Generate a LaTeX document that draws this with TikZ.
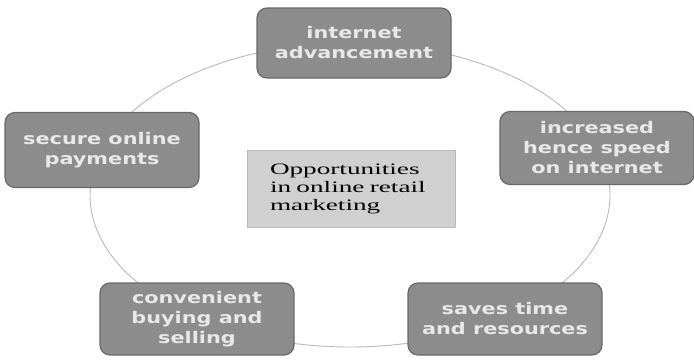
\documentclass[tikz,border=0pt]{standalone}
\usepackage{fontspec}
\setmainfont{Liberation Serif}[FakeStretch=1.7]
\newfontfamily\boxfont{DejaVu Sans}[FakeStretch=1.3]
\usetikzlibrary{positioning}
\definecolor{boxgray}{RGB}{140,140,140}
\definecolor{boxedge}{RGB}{105,105,105}
\definecolor{boxtext}{RGB}{232,232,232}
\definecolor{ringgray}{RGB}{185,185,185}
\definecolor{midgray}{RGB}{208,208,208}
\tikzset{
  oppbox/.style={draw=boxedge, line width=1.2pt, fill=boxgray, rounded corners=10pt,
    minimum width=194pt, minimum height=70pt, align=center, text=boxtext,
    font=\boxfont\bfseries\fontsize{16}{20}\selectfont},
  midbox/.style={draw=ringgray, line width=0.8pt, fill=midgray, minimum width=208pt,
    minimum height=77pt, text width=162pt, align=left,
    font=\fontsize{16}{18}\selectfont}
}
\begin{document}
\begin{tikzpicture}[x=1pt,y=-1pt]
    \useasboundingbox (0,0) rectangle (694,360);

    % ring
    \coordinate (ring) at (350,195);
    \draw[ringgray, line width=0.9pt] (ring) ellipse [x radius=260pt, y radius=152pt];

    % outer boxes
    \node[oppbox] (advance) at (354,43) {internet\\advancement};
    \node[oppbox, minimum height=73pt] (speed) at (597,148) {increased\\hence speed\\on internet};
    \node[oppbox, minimum height=75pt] (secure) at (102,150) {secure online\\payments};
    \node[oppbox, minimum height=72pt] (convenient) at (197,319) {convenient\\buying and\\selling};
    \node[oppbox, minimum height=72pt] (saves) at (505,319) {saves time\\and resources};

    % centre
    \node[midbox] (opp) at (351,189) {Opportunities\\in online retail\\marketing};
\end{tikzpicture}
\end{document}
